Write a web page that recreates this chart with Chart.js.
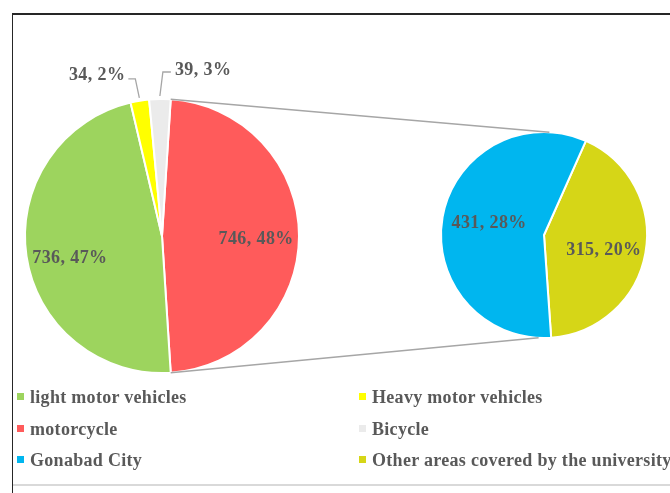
<!DOCTYPE html>
<html>
<head>
<meta charset="utf-8">
<script src="https://cdn.jsdelivr.net/npm/chart.js"></script>
<style>
  body { margin: 0; background: #fff; }
  #wrap { position: relative; width: 670px; height: 493px; overflow: hidden; font-family: "Liberation Serif", "Times New Roman", serif; }
  #frame { position: absolute; left: 12px; top: 13px; width: 700px; height: 490px; border-top: 2px solid #262626; border-left: 1px solid #262626; }
  #bottomLine { position: absolute; left: 13px; top: 484px; width: 700px; height: 2px; background: #d9d9d9; }
  canvas { position: absolute; left: 0; top: 0; }
  .item { position: absolute; font-weight: bold; font-size: 18px; color: #595959; white-space: nowrap; line-height: 20px; letter-spacing: 0.3px; }
  .mark { display: inline-block; width: 7px; height: 7px; margin-right: 6px; vertical-align: 3px; }
</style>
</head>
<body>
<div id="wrap">
  <div id="frame"></div>
  <div id="bottomLine"></div>
  <canvas id="mainPie" width="670" height="493"></canvas>
  <canvas id="subPie" width="670" height="493"></canvas>
  <div id="legend"></div>
</div>
<script>
// main pie: the red slice is split out into the small pie on the right
const mainLabels = ["motorcycle", "light motor vehicles", "Heavy motor vehicles", "Bicycle"];
const mainValues = [746, 736, 34, 39];
const mainColors = ["#ff5b5b", "#9dd45e", "#ffff00", "#ebebeb"];

const subLabels = ["Other areas covered by the university", "Gonabad City"];
const subValues = [315, 431];
const subColors = ["#d6d617", "#00b6ef"];

const legendOrder = ["light motor vehicles", "Heavy motor vehicles", "motorcycle", "Bicycle",
                     "Gonabad City", "Other areas covered by the university"];

const grandTotal = mainValues.reduce((a, b) => a + b, 0);
const labelColor = "#595959";
const labelFont = 'bold 18px "Liberation Serif", serif';

const sliceLabels = {
  id: "sliceLabels",
  afterDatasetsDraw(chart, args, opts) {
    const ctx = chart.ctx;
    const meta = chart.getDatasetMeta(0);
    const values = chart.data.datasets[0].data;
    ctx.save();
    ctx.font = labelFont;
    ctx.letterSpacing = "0.4px";
    ctx.fillStyle = labelColor;
    meta.data.forEach((arc, i) => {
      const text = values[i] + ", " + Math.round(values[i] / grandTotal * 100) + "%";
      const mid = (arc.startAngle + arc.endAngle) / 2;
      const out = opts.outside[i];
      if (out) {
        const r = arc.outerRadius + 3;
        const sx = arc.x + Math.cos(mid) * r, sy = arc.y + Math.sin(mid) * r;
        const kx = sx + out.kx, ky = sy + out.ky;
        const hx = kx + out.hx;
        ctx.strokeStyle = "#a6a6a6";
        ctx.lineWidth = 1.3;
        ctx.beginPath();
        ctx.moveTo(sx, sy);
        ctx.lineTo(kx, ky);
        ctx.lineTo(hx, ky);
        ctx.stroke();
        ctx.textBaseline = "alphabetic";
        ctx.textAlign = out.hx < 0 ? "right" : "left";
        ctx.fillText(text, hx + (out.hx < 0 ? -3 : 4), ky + out.base);
      } else {
        const rr = arc.outerRadius * opts.radial;
        const nudge = opts.nudge[i] || [0, 0];
        ctx.textAlign = "center";
        ctx.textBaseline = "middle";
        ctx.fillText(text, arc.x + Math.cos(mid) * rr + nudge[0], arc.y + Math.sin(mid) * rr + nudge[1]);
      }
    });
    ctx.restore();
  }
};

const connectors = {
  id: "connectors",
  afterDraw(chart) {
    const a = mainChart.getDatasetMeta(0).data[0];
    const b = chart.getDatasetMeta(0).data[0];
    const ctx = chart.ctx;
    const off = 3 * Math.PI / 180;
    const top2 = -Math.PI / 2 + off, bot2 = Math.PI / 2 + off;
    ctx.save();
    ctx.strokeStyle = "#a6a6a6";
    ctx.lineWidth = 1.5;
    ctx.beginPath();
    ctx.moveTo(a.x + Math.cos(a.startAngle) * a.outerRadius, a.y + Math.sin(a.startAngle) * a.outerRadius);
    ctx.lineTo(b.x + Math.cos(top2) * b.outerRadius, b.y + Math.sin(top2) * b.outerRadius);
    ctx.moveTo(a.x + Math.cos(a.endAngle) * a.outerRadius, a.y + Math.sin(a.endAngle) * a.outerRadius);
    ctx.lineTo(b.x + Math.cos(bot2) * b.outerRadius, b.y + Math.sin(bot2) * b.outerRadius);
    ctx.stroke();
    ctx.restore();
  }
};

const baseOptions = {
  responsive: false,
  animation: false,
  events: [],
  plugins: { legend: { display: false }, tooltip: { enabled: false } }
};

const mainChart = new Chart(document.getElementById("mainPie"), {
  type: "pie",
  data: {
    labels: mainLabels,
    datasets: [{ data: mainValues, backgroundColor: mainColors, borderColor: "#fff", borderWidth: 2 }]
  },
  options: Object.assign({}, baseOptions, {
    rotation: 90 - mainValues[0] / grandTotal * 180,
    layout: { padding: { left: 24, top: 98, right: 370, bottom: 119 } },
    plugins: Object.assign({}, baseOptions.plugins, {
      sliceLabels: {
        radial: 0.68,
        nudge: { 0: [1, 3], 1: [0, 9] },
        outside: { 2: { kx: -4, ky: -19, hx: -7, base: 1 }, 3: { kx: 3, ky: -24, hx: 8, base: 3 } }
      }
    })
  }),
  plugins: [sliceLabels]
});

const subChart = new Chart(document.getElementById("subPie"), {
  type: "pie",
  data: {
    labels: subLabels,
    datasets: [{ data: subValues, backgroundColor: subColors, borderColor: "#fff", borderWidth: 2 }]
  },
  options: Object.assign({}, baseOptions, {
    rotation: 24,
    layout: { padding: { left: 440, top: 131, right: 22, bottom: 154 } },
    plugins: Object.assign({}, baseOptions.plugins, {
      sliceLabels: { radial: 0.6, nudge: { 0: [-1, 5], 1: [6, -1] }, outside: {} }
    })
  }),
  plugins: [sliceLabels, connectors]
});

// legend, two columns
const allLabels = mainLabels.concat(subLabels);
const allColors = mainColors.concat(subColors);
const legend = document.getElementById("legend");
legendOrder.forEach((name, i) => {
  const el = document.createElement("div");
  el.className = "item";
  el.style.left = (i % 2 === 0 ? 17 : 359) + "px";
  el.style.top = (387 + Math.floor(i / 2) * 31.5) + "px";
  const mk = document.createElement("span");
  mk.className = "mark";
  mk.style.background = allColors[allLabels.indexOf(name)];
  el.appendChild(mk);
  el.appendChild(document.createTextNode(name));
  legend.appendChild(el);
});
</script>
</body>
</html>
